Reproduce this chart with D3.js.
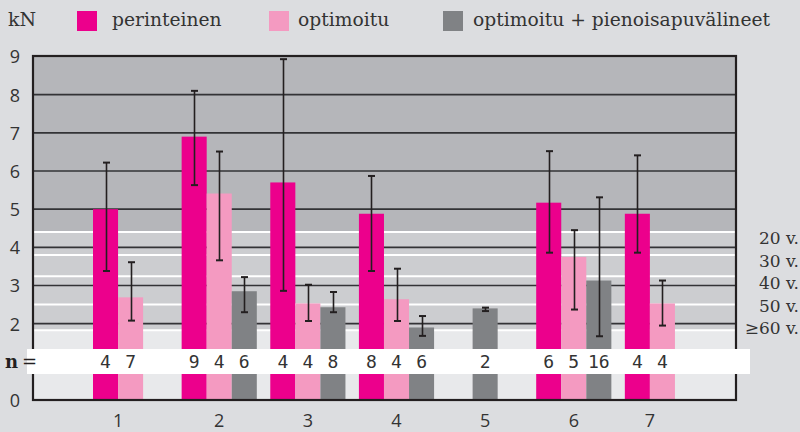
<!DOCTYPE html>
<html><head><meta charset="utf-8">
<script src="https://cdn.jsdelivr.net/npm/d3@7"></script>
<style>
html,body{margin:0;padding:0;background:#dcdde0;}
svg{display:block;}
</style></head>
<body>
<svg id="chart" width="800" height="432"></svg>
<script>
// ---- data ----
const groups = ["1","2","3","4","5","6","7"];
const seriesNames = ["perinteinen","optimoitu","optimoitu + pienoisapuvälineet"];
const perinteinen     = [5.00, 6.90, 5.70, 4.88, null, 5.17, 4.88];
const perinteinenLow  = [3.38, 5.63, 2.86, 3.38, null, 3.86, 3.86];
const perinteinenHigh = [6.22, 8.10, 8.93, 5.87, null, 6.52, 6.41];
const optimoitu       = [2.69, 5.41, 2.53, 2.64, null, 3.75, 2.53];
const optimoituLow    = [2.08, 3.66, 2.07, 2.07, null, 2.37, 1.95];
const optimoituHigh   = [3.61, 6.51, 3.02, 3.44, null, 4.45, 3.13];
const apuvalineet     = [null, 2.85, 2.43, 1.90, 2.40, 3.13, null];
const apuvalineetLow  = [null, 2.30, 2.30, 1.68, 2.33, 1.67, null];
const apuvalineetHigh = [null, 3.22, 2.83, 2.20, 2.42, 5.31, null];
const nPerinteinen    = [4, 9, 4, 8, null, 6, 4];
const nOptimoitu      = [7, 4, 4, 4, null, 5, 4];
const nApuvalineet    = [null, 6, 8, 6, 2, 16, null];
const yTickLabels = [0,2,3,4,5,6,7,8,9];
const gridValues = [1,2,3,4,5,6,7,8];
const ageLabels = ["20 v.","30 v.","40 v.","50 v.","≥60 v."];
const ageValues = [4.40, 3.80, 3.24, 2.50, 1.83];
const unitLabel = "kN";

// ---- layout ----
const colors = ["#ec008c","#f49ac1","#808285"];
const P = {left:33, right:736, top:56, bottom:400};
const svg = d3.select("#chart");

const y = d3.scaleLinear().domain([0,9]).range([P.bottom, P.top+0.5]);
const x = d3.scaleBand().domain(groups).range([93, 700]).paddingInner(0.152).paddingOuter(0);
const xs = d3.scaleBand().domain(seriesNames).range([0, x.bandwidth()]);

const vals = [perinteinen, optimoitu, apuvalineet];
const lows = [perinteinenLow, optimoituLow, apuvalineetLow];
const highs = [perinteinenHigh, optimoituHigh, apuvalineetHigh];
const ns = [nPerinteinen, nOptimoitu, nApuvalineet];

const bars = [];
groups.forEach((g,gi)=>{
  const present = seriesNames.map((s,si)=>si).filter(si=>vals[si][gi]!=null);
  present.forEach(si=>{
    const slot = present.length===1 ? seriesNames[1] : seriesNames[si];
    bars.push({g, gi, si, slot, v:vals[si][gi], lo:lows[si][gi], hi:highs[si][gi], n:ns[si][gi]});
  });
});
const barX = d => x(d.g) + xs(d.slot);
const bw = xs.bandwidth();

// plot background
svg.append("rect").attr("x",P.left).attr("y",P.top).attr("width",P.right-P.left).attr("height",P.bottom-P.top).attr("fill","#b5b6ba");
svg.append("rect").attr("x",P.left).attr("y",y(ageValues[0])).attr("width",P.right-P.left)
  .attr("height",y(ageValues[ageValues.length-1])-y(ageValues[0])).attr("fill","#cccdd0");
svg.append("rect").attr("x",P.left).attr("y",y(ageValues[ageValues.length-1])).attr("width",P.right-P.left)
  .attr("height",P.bottom-y(ageValues[ageValues.length-1])).attr("fill","#e8e9eb");
svg.append("g").selectAll("line").data(ageValues).join("line")
  .attr("x1",P.left).attr("x2",P.right).attr("y1",d=>y(d)).attr("y2",d=>y(d))
  .attr("stroke","#ffffff").attr("stroke-width",2);

// gridlines
svg.append("g").selectAll("line").data(gridValues).join("line")
  .attr("x1",P.left).attr("x2",P.right).attr("y1",d=>y(d)).attr("y2",d=>y(d))
  .attr("stroke","#333336").attr("stroke-width",1.6);

// bars
svg.append("g").selectAll("rect").data(bars).join("rect")
  .attr("x",barX).attr("width",bw).attr("y",d=>y(d.v)).attr("height",d=>y(0)-y(d.v))
  .attr("fill",d=>colors[d.si]);

// error bars
const eg = svg.append("g").attr("stroke","#231f20").attr("stroke-width",1.6);
bars.forEach(d=>{
  const cx = Math.round(barX(d)+bw/2)+0.5;
  eg.append("line").attr("x1",cx).attr("x2",cx).attr("y1",y(d.hi)).attr("y2",y(d.lo));
  [d.hi,d.lo].forEach(v=>eg.append("line").attr("x1",cx-3.5).attr("x2",cx+3.5).attr("y1",y(v)).attr("y2",y(v)).attr("stroke-width",2));
});

// axes frame
const fr = svg.append("g").attr("stroke","#231f20").attr("stroke-width",2.2).attr("fill","none");
fr.append("rect").attr("x",P.left).attr("y",P.top).attr("width",P.right-P.left).attr("height",P.bottom-P.top);

// y axis labels
const yAxis = d3.axisLeft(y).tickValues(yTickLabels).tickSize(0).tickPadding(0);
const ya = svg.append("g").attr("transform",`translate(20,0)`).call(yAxis);
ya.select(".domain").remove();
ya.selectAll("text").attr("font-family","'Open Sans', sans-serif").attr("font-size",18).attr("fill","#333").attr("dy","0.36em");

// x labels at centers of present bars
const grpCenters = groups.map(g=>{
  const b = bars.filter(d=>d.g===g);
  return {g, cx: d3.mean(b, d=>barX(d)+bw/2)};
});
svg.append("g").selectAll("text").data(grpCenters).join("text")
  .attr("x",d=>d.cx).attr("y",427).attr("text-anchor","middle")
  .attr("font-family","'Open Sans', sans-serif").attr("font-size",18).attr("fill","#333").text(d=>d.g);

// n band
svg.append("rect").attr("x",27).attr("y",349).attr("width",723).attr("height",25).attr("fill","#ffffff");
const nt = svg.append("text").attr("x",5).attr("y",368).attr("font-family","'DejaVu Serif', serif").attr("font-size",18).attr("fill","#231f20");
nt.append("tspan").attr("font-weight","bold").text("n");
nt.append("tspan").attr("dx",4).text("=");
svg.append("g").selectAll("text").data(bars).join("text")
  .attr("x",d=>barX(d)+bw/2).attr("y",368).attr("text-anchor","middle")
  .attr("font-family","'DejaVu Sans Mono', monospace").attr("font-size",18).attr("fill","#333").text(d=>d.n);

// age labels
svg.append("g").selectAll("text").data(ageLabels).join("text")
  .attr("x",799).attr("y",(d,i)=>244+i*22.5).attr("text-anchor","end")
  .attr("font-family","'DejaVu Serif', serif").attr("font-size",17).attr("fill","#333").text(d=>d);

// legend
svg.append("text").attr("x",8).attr("y",26).attr("font-family","'DejaVu Serif', serif").attr("font-size",19).attr("fill","#333").text(unitLabel);
const legX = [77, 269, 443];
const lg = svg.append("g").selectAll("g").data(seriesNames).join("g").attr("transform",(d,i)=>`translate(${legX[i]},11)`);
lg.append("rect").attr("width",20).attr("height",20).attr("fill",(d,i)=>colors[i]);
lg.append("text").attr("x",(d,i)=>i===0?35:i===1?29:30).attr("y",15).attr("font-family","'DejaVu Serif', serif").attr("font-size",18.7).attr("fill","#333").text(d=>d);
</script>
</body></html>
